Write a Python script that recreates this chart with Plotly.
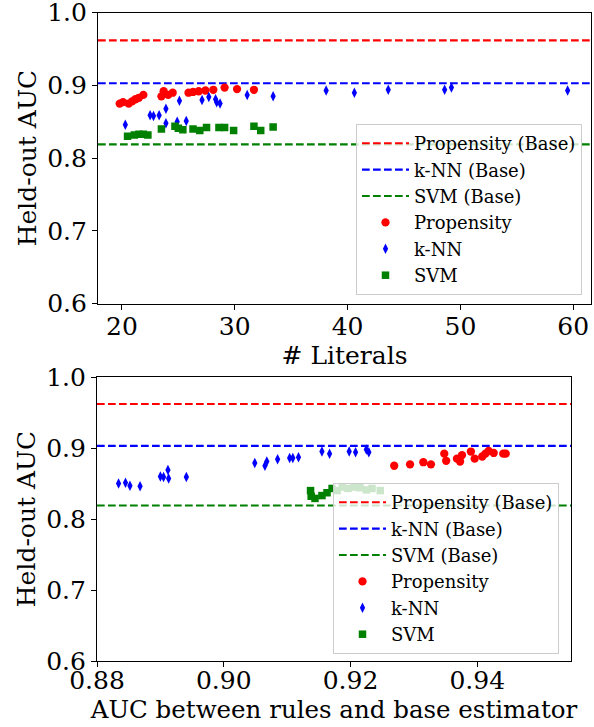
import plotly.graph_objects as go

# ---------------- data ----------------
base_labels = ["Propensity (Base)", "k-NN (Base)", "SVM (Base)"]
base_auc = [0.962, 0.903, 0.819]
base_colors = ["#ff0000", "#0000ff", "#008000"]

# top panel: # literals vs held-out AUC
prop_lit = [19.8, 20.1, 20.6, 20.9, 21.2, 21.5, 21.9, 23.5, 23.7, 24.1, 24.5, 25.9, 26.3, 26.8, 27.4, 28.1, 29.1, 30.2, 31.7]
prop_auc_top = [0.875, 0.877, 0.875, 0.878, 0.881, 0.883, 0.887, 0.885, 0.892, 0.887, 0.890, 0.890, 0.891, 0.892, 0.893, 0.894, 0.897, 0.895, 0.894]

knn_lit = [20.3, 22.5, 22.8, 23.3, 23.9, 23.9, 24.9, 25.1, 25.7, 27.1, 27.7, 28.3, 28.4, 28.7, 31.1, 33.4, 38.1, 40.6, 43.6, 48.6, 49.2, 59.5]
knn_auc_top = [0.846, 0.859, 0.858, 0.859, 0.868, 0.848, 0.850, 0.879, 0.851, 0.880, 0.884, 0.881, 0.877, 0.875, 0.887, 0.885, 0.893, 0.890, 0.894, 0.894, 0.897, 0.893]

svm_lit = [20.5, 21.1, 21.5, 21.9, 22.3, 23.5, 24.7, 25.0, 25.4, 26.3, 26.9, 27.5, 28.6, 29.1, 29.9, 31.7, 32.3, 33.4]
svm_auc_top = [0.830, 0.832, 0.833, 0.833, 0.832, 0.840, 0.844, 0.841, 0.839, 0.840, 0.838, 0.842, 0.842, 0.842, 0.838, 0.844, 0.838, 0.843]

# bottom panel: AUC between rules and base estimator vs held-out AUC
prop_fid = [0.9269, 0.9294, 0.9315, 0.9327, 0.9348, 0.9351, 0.9368, 0.9373, 0.9376, 0.9390, 0.9396, 0.9408, 0.9413, 0.9418, 0.9426, 0.9441, 0.9445]
prop_auc_bot = [0.875, 0.877, 0.880, 0.877, 0.892, 0.882, 0.885, 0.881, 0.890, 0.895, 0.885, 0.888, 0.892, 0.896, 0.893, 0.892, 0.892]

knn_fid = [0.8834, 0.8845, 0.8852, 0.8868, 0.8900, 0.8905, 0.8912, 0.8913, 0.8941, 0.9049, 0.9065, 0.9068, 0.9085, 0.9104, 0.9109, 0.9118, 0.9155, 0.9167, 0.9198, 0.9208, 0.9225, 0.9229]
knn_auc_bot = [0.850, 0.851, 0.847, 0.846, 0.860, 0.859, 0.869, 0.857, 0.859, 0.879, 0.875, 0.881, 0.884, 0.886, 0.886, 0.887, 0.895, 0.892, 0.895, 0.894, 0.898, 0.894]

svm_fid = [0.9137, 0.9138, 0.9144, 0.9155, 0.9163, 0.9171, 0.9179, 0.9187, 0.9196, 0.9206, 0.9215, 0.9225, 0.9234, 0.9247]
svm_auc_bot = [0.840, 0.832, 0.829, 0.833, 0.837, 0.843, 0.840, 0.845, 0.843, 0.845, 0.844, 0.841, 0.843, 0.840]

top_xrange = [17.88, 61.57]
bot_xrange = [0.88, 0.9548]
y_range = [0.6, 1.0]

# ---------------- figure ----------------
W, H = 594, 727
FONT = "DejaVu Serif"
fig = go.Figure()

def add_panel(xa, ya, legend, xr, px, py, kx, ky, sx, sy):
    for lab, v, c in zip(base_labels, base_auc, base_colors):
        fig.add_trace(go.Scatter(x=xr, y=[v, v], mode="lines", name=lab,
                                 line=dict(color=c, width=2.1, dash="7.7px,3.3px"),
                                 xaxis=xa, yaxis=ya, legend=legend))
    fig.add_trace(go.Scatter(x=px, y=py, mode="markers", name="Propensity",
                             marker=dict(color="#ff0000", size=8.3, symbol="circle"),
                             xaxis=xa, yaxis=ya, legend=legend))
    fig.add_trace(go.Scatter(x=kx, y=ky, mode="markers", name="k-NN",
                             marker=dict(color="#0000ff", size=7.5, symbol="diamond-tall"),
                             xaxis=xa, yaxis=ya, legend=legend))
    fig.add_trace(go.Scatter(x=sx, y=sy, mode="markers", name="SVM",
                             marker=dict(color="#008000", size=7.5, symbol="square"),
                             xaxis=xa, yaxis=ya, legend=legend))

add_panel("x", "y", "legend", top_xrange, prop_lit, prop_auc_top, knn_lit, knn_auc_top, svm_lit, svm_auc_top)
add_panel("x2", "y2", "legend2", bot_xrange, prop_fid, prop_auc_bot, knn_fid, knn_auc_bot, svm_fid, svm_auc_bot)

axis_common = dict(showgrid=False, zeroline=False, showline=True, linecolor="black",
                   linewidth=1.1, mirror=True, ticks="outside", ticklen=5, tickwidth=1.1,
                   tickcolor="black", automargin=False, ticklabeloverflow="allow",
                   tickfont=dict(family=FONT, size=25, color="black"))

def fx(p):
    return p / W

def fy(p):
    return (H - p) / H

legend_common = dict(bgcolor="rgba(255,255,255,0.8)", bordercolor="#cccccc", borderwidth=1,
                     font=dict(family=FONT, size=18, color="black"), itemwidth=47,
                     xanchor="right", yanchor="bottom", xref="paper", yref="paper")

fig.update_layout(
    width=W, height=H,
    margin=dict(l=0, r=0, t=0, b=0, autoexpand=False),
    paper_bgcolor="white", plot_bgcolor="white",
    font=dict(family=FONT, color="black"),
    xaxis=dict(axis_common, domain=[fx(98), fx(591)], range=top_xrange, anchor="y",
               tickvals=[20, 30, 40, 50, 60], ticklabelstandoff=-5,
               title=dict(text="# Literals", font=dict(family=FONT, size=25), standoff=2)),
    yaxis=dict(axis_common, domain=[fy(303.6), fy(12.7)], range=y_range, anchor="x",
               tickvals=[0.6, 0.7, 0.8, 0.9, 1.0], tickformat=".1f",
               title=dict(text="Held-out AUC", font=dict(family=FONT, size=25), standoff=3)),
    xaxis2=dict(axis_common, domain=[fx(97), fx(571)], range=bot_xrange, anchor="y2",
                tickvals=[0.88, 0.90, 0.92, 0.94], tickformat=".2f", ticklabelstandoff=-8,
                title=dict(text="AUC between rules and base estimator", font=dict(family=FONT, size=24.5), standoff=2)),
    yaxis2=dict(axis_common, domain=[fy(661), fy(377)], range=y_range, anchor="x2",
                tickvals=[0.6, 0.7, 0.8, 0.9, 1.0], tickformat=".1f",
                title=dict(text="Held-out AUC", font=dict(family=FONT, size=25), standoff=3)),
    legend=dict(legend_common, x=fx(582), y=fy(295)),
    legend2=dict(legend_common, x=fx(559), y=fy(654)),
)

fig.write_html("out.html", config={"displayModeBar": False},
               post_script="document.body.style.margin='0';")
